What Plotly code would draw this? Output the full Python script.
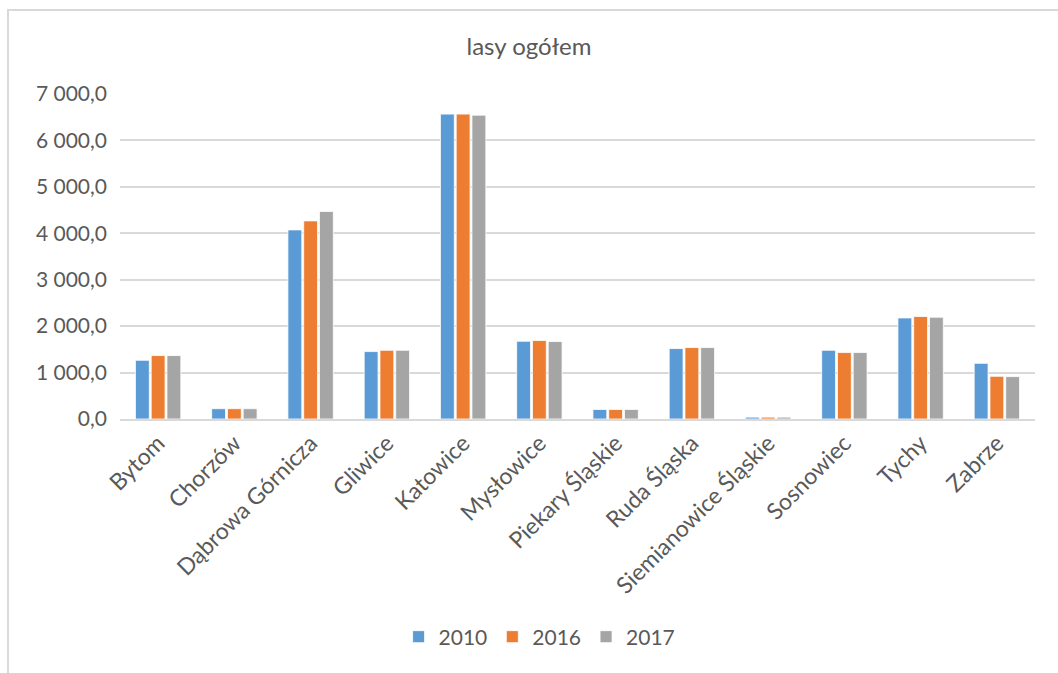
import plotly.graph_objects as go

# dane: lasy ogółem (ha)
miasta = ["Bytom", "Chorzów", "Dąbrowa Górnicza", "Gliwice", "Katowice", "Mysłowice",
          "Piekary Śląskie", "Ruda Śląska", "Siemianowice Śląskie", "Sosnowiec", "Tychy", "Zabrze"]
lata = ["2010", "2016", "2017"]
v2010 = [1265, 222, 4073, 1452, 6567, 1675, 205, 1517, 40, 1480, 2177, 1200]
v2016 = [1366, 222, 4267, 1480, 6567, 1690, 205, 1539, 40, 1431, 2207, 920]
v2017 = [1366, 222, 4470, 1480, 6545, 1668, 205, 1539, 40, 1431, 2192, 913]
kolory = ["#5b9bd5", "#ed7d31", "#a5a5a5"]
y_ticks = [0, 1000, 2000, 3000, 4000, 5000, 6000, 7000]
y_labels = ["0,0", "1 000,0", "2 000,0", "3 000,0", "4 000,0", "5 000,0", "6 000,0", "7 000,0"]

W, H = 1058, 673
m_l, m_r, m_t, m_b = 120, 23, 94, 254
font = "Lato, 'Open Sans', sans-serif"

fig = go.Figure()
for rok, vals, kol in zip(lata, [v2010, v2016, v2017], kolory):
    fig.add_trace(go.Bar(
        x=miasta, y=vals, name=rok,
        marker=dict(color=kol, line=dict(color="white", width=0.8)),
    ))

# ramka wykresu (tylko lewa i górna krawędź widoczna)
pw = W - m_l - m_r
ph = H - m_t - m_b
fig.add_shape(type="rect", xref="paper", yref="paper",
              x0=(8 - m_l) / pw, x1=(W + 20 - m_l) / pw,
              y0=-(H + 20 - (H - m_b)) / ph, y1=((H - m_b) - 10) / ph,
              line=dict(color="#d9d9d9", width=2), fillcolor="rgba(0,0,0,0)", layer="below")

fig.update_layout(
    width=W, height=H,
    margin=dict(l=m_l, r=m_r, t=m_t, b=m_b),
    paper_bgcolor="white", plot_bgcolor="white",
    font=dict(family=font, size=19, color="#595959"),
    title=dict(text="lasy ogółem", x=0.5, xref="container", y=1 - 47 / H, yref="container",
               xanchor="center", yanchor="middle", font=dict(size=24, color="#595959")),
    barmode="group", bargap=0.38, bargroupgap=0.12,
    showlegend=True,
    legend=dict(orientation="h", x=0.51, xref="container", xanchor="center",
                y=1 - 637 / H, yref="container", yanchor="middle",
                font=dict(size=21, color="#595959"), itemwidth=30, traceorder="normal"),
    xaxis=dict(tickangle=-45, showgrid=False, showline=True, linecolor="#d9d9d9", linewidth=1.5,
               ticks="", tickfont=dict(size=23, color="#595959")),
    yaxis=dict(range=[0, 7000], tickvals=y_ticks, ticktext=y_labels, showgrid=True,
               gridcolor="#d9d9d9", gridwidth=1.5, zeroline=False, showline=False, ticks="",
               ticklabelstandoff=12, tickfont=dict(size=21, color="#595959")),
)

fig.write_html("out.html", config={"displayModeBar": False},
               post_script="document.body.style.margin='0';")
